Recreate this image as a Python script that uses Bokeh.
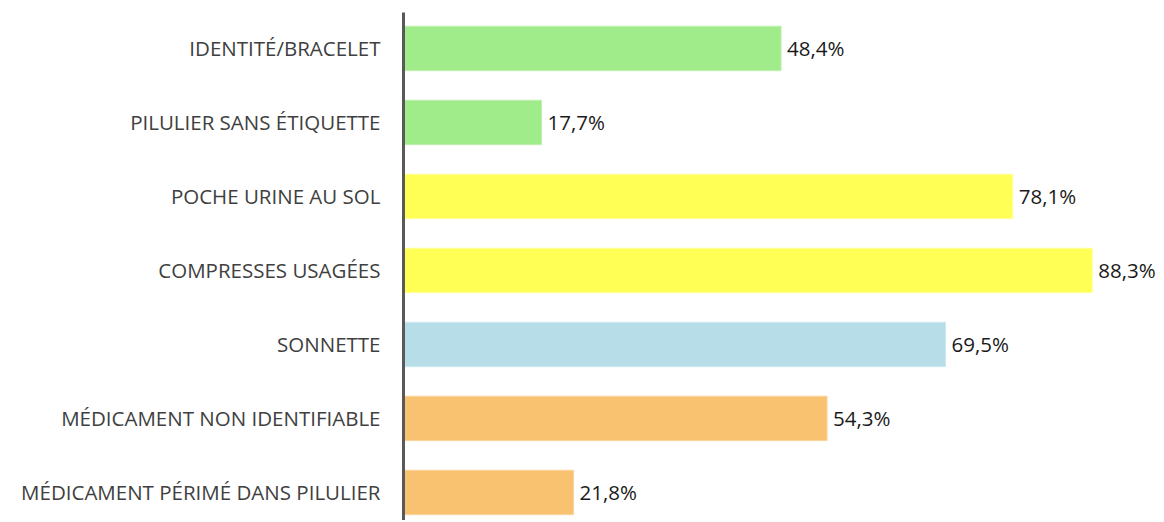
from bokeh.plotting import figure
from bokeh.models import FixedTicker, ColumnDataSource
from bokeh.core.properties import value
from bokeh.embed import file_html
from bokeh.resources import INLINE

categories = [
    "IDENTITÉ/BRACELET",
    "PILULIER SANS ÉTIQUETTE",
    "POCHE URINE AU SOL",
    "COMPRESSES USAGÉES",
    "SONNETTE",
    "MÉDICAMENT NON IDENTIFIABLE",
    "MÉDICAMENT PÉRIMÉ DANS PILULIER",
]
values = [48.4, 17.7, 78.1, 88.3, 69.5, 54.3, 21.8]
colors = ["#A0EB8A", "#A0EB8A", "#FFFF55", "#FFFF55", "#B7DEE8", "#F9C270", "#F9C270"]
borders = ["#BDF0AE", "#BDF0AE", "#FFFF99", "#FFFF99", "#CDE8F0", "#FBD49C", "#FBD49C"]

n = len(categories)
ypos = [n - 1 - i for i in range(n)]
labels = [f"{v:.1f}".replace(".", ",") + "%" for v in values]

src = ColumnDataSource(dict(y=ypos, v=values, c=colors, b=borders, lab=labels))

p = figure(width=1160, height=520, output_backend="svg", toolbar_location=None,
           x_range=(0, 97.05), y_range=(-0.379, 6.486),
           min_border_left=403, min_border_top=12, min_border_bottom=0, min_border_right=0)

p.hbar(y="y", left=0, right="v", height=0.6, fill_color="c", line_color="b", line_width=1, source=src)
p.text(x="v", y="y", text="lab", x_offset=6, text_baseline="middle", text_align="left",
       text_font=value("Open Sans"), text_font_size="20.5px", text_color="#1a1a1a", source=src)

p.xaxis.visible = False
p.xgrid.visible = False
p.ygrid.visible = False
p.outline_line_color = None

ax = p.yaxis[0]
ax.ticker = FixedTicker(ticks=ypos)
ax.major_label_overrides = {y: c for y, c in zip(ypos, categories)}
ax.major_tick_line_color = None
ax.minor_tick_line_color = None
ax.axis_line_color = "#595959"
ax.axis_line_width = 3
ax.major_label_standoff = 17
ax.major_label_text_font = "Open Sans"
ax.major_label_text_font_size = "20.5px"
ax.major_label_text_color = "#404040"

open("out.html", "w").write(file_html(p, INLINE))
